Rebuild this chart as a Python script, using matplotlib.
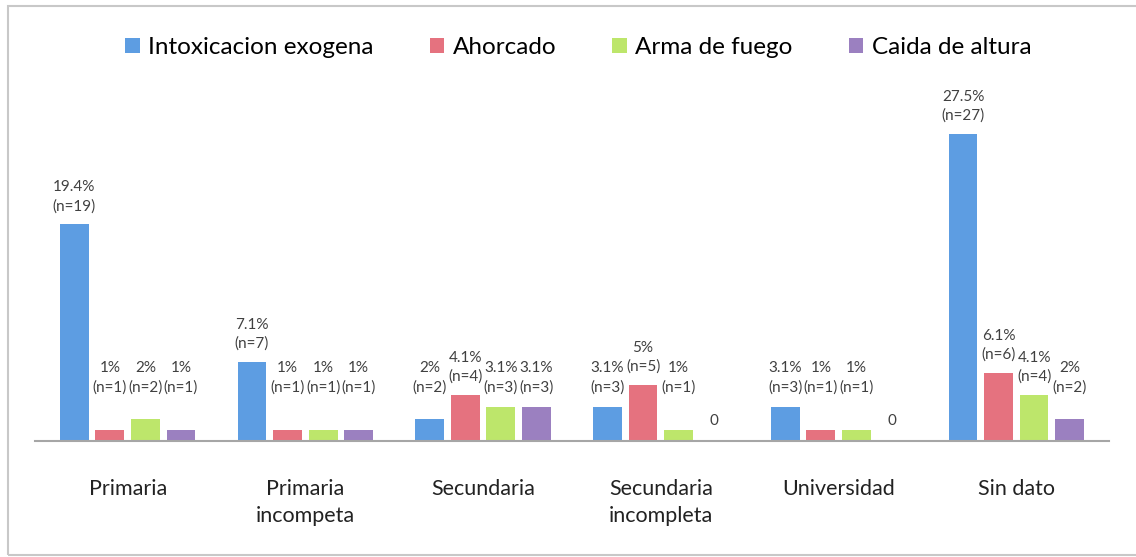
import numpy as np
import matplotlib
matplotlib.use('Agg')
import matplotlib.pyplot as plt
from matplotlib.patches import Rectangle

plt.rcParams['font.family'] = ['Lato', 'DejaVu Sans']

# categories and series (percent, n)
categorias = ["Primaria", "Primaria\nincompeta", "Secundaria",
              "Secundaria\nincompleta", "Universidad", "Sin dato"]
series = ["Intoxicacion exogena", "Ahorcado", "Arma de fuego", "Caida de altura"]
intoxicacion = [19.4, 7.1, 2, 3.1, 3.1, 27.5]
ahorcado = [1, 1, 4.1, 5, 1, 6.1]
arma_fuego = [2, 1, 3.1, 1, 1, 4.1]
caida_altura = [1, 1, 3.1, 0, 0, 2]
n_intox = [19, 7, 2, 3, 3, 27]
n_ahorcado = [1, 1, 4, 5, 1, 6]
n_arma = [2, 1, 3, 1, 1, 4]
n_caida = [1, 1, 3, 0, 0, 2]
colores = ["#5d9de2", "#e5727f", "#bde66b", "#9b80c0"]

valores = [intoxicacion, ahorcado, arma_fuego, caida_altura]
cuentas = [n_intox, n_ahorcado, n_arma, n_caida]

fig = plt.figure(figsize=(11.36, 5.57), dpi=100)
ax = fig.add_axes([0.031, 0.208, 0.945, 0.63])

x = np.arange(len(categorias))
ancho = 0.162
paso = 0.2
for i, (vals, ns) in enumerate(zip(valores, cuentas)):
    pos = x + (i - 1.5) * paso
    ax.bar(pos, vals, ancho, color=colores[i], label=series[i])
    for p, v, n in zip(pos, vals, ns):
        if n == 0:
            ax.text(p, 1.2, "0", ha='center', va='bottom', fontsize=11, color='#404040')
            continue
        pct = ("%g" % v) + "%"
        # small bars get their labels lifted a bit, like the original
        y = max(v, 3.2)
        ax.annotate("%s\n(n=%d)" % (pct, n), (p, y), xytext=(0, 8),
                    textcoords='offset points', ha='center', va='bottom',
                    fontsize=11, color='#404040', linespacing=1.4)

ax.set_xlim(-0.52, 5.52)
ax.set_ylim(0, 31.4)
ax.set_xticks(x)
ax.set_xticklabels(categorias, fontsize=15.5, color='#222222', linespacing=1.45, va='top')
ax.tick_params(axis='x', length=0, pad=27)
ax.set_yticks([])
for s in ['top', 'right', 'left']:
    ax.spines[s].set_visible(False)
ax.spines['bottom'].set_color('#a6a6a6')
ax.spines['bottom'].set_linewidth(1.5)

ax.legend(loc='upper center', bbox_to_anchor=(0.509, 0.995), bbox_transform=fig.transFigure,
          ncol=4, frameon=False, fontsize=17.5, handlelength=0.6, handleheight=0.6,
          handletextpad=0.35, columnspacing=2.3, borderaxespad=1.0)

# outer frame of the pasted chart
fig.patches.append(Rectangle((0.007, 0.003), 1.1, 0.986, transform=fig.transFigure,
                             fill=False, edgecolor='#c8c8c8', linewidth=1.5))

fig.savefig("out.png", dpi=100)
